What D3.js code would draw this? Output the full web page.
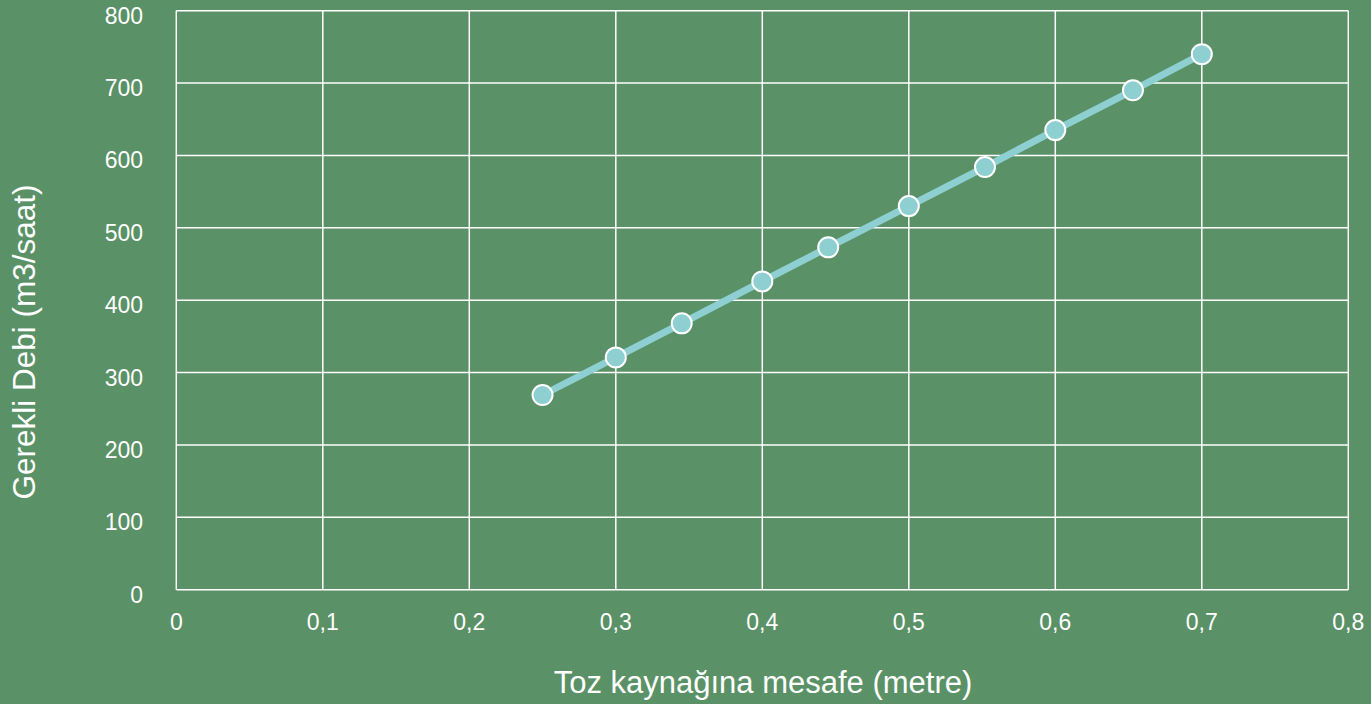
<!DOCTYPE html>
<html><head><meta charset="utf-8">
<script src="https://cdn.jsdelivr.net/npm/d3@7"></script>
<style>html,body{margin:0;padding:0;background:#5a9166;}svg{display:block;}</style>
</head><body>
<svg id="c" width="1371" height="704"></svg>
<script>
const xValues = [0.25, 0.3, 0.345, 0.4, 0.445, 0.5, 0.552, 0.6, 0.653, 0.7];
const yValues = [269, 321, 368, 426, 473, 530, 584, 635, 690, 740];
const xTicks = [0, 0.1, 0.2, 0.3, 0.4, 0.5, 0.6, 0.7, 0.8];
const yTicks = [0, 100, 200, 300, 400, 500, 600, 700, 800];
const xTitle = "Toz kaynağına mesafe (metre)";
const yTitle = "Gerekli Debi (m3/saat)";

const svg = d3.select("#c");
svg.append("rect").attr("width",1371).attr("height",704).attr("fill","#5a9166");
const L=176.3, R=1348.3, T=10.7, B=589.7;
const x = d3.scaleLinear().domain([0,0.8]).range([L,R]);
const y = d3.scaleLinear().domain([0,800]).range([B,T]);
const fmt = d => String(d).replace(".", ",");
const font = "Liberation Sans, Arial, sans-serif";

const g = svg.append("g");
g.selectAll(".vx").data(xTicks).join("line")
  .attr("x1",d=>x(d)).attr("x2",d=>x(d)).attr("y1",T).attr("y2",B)
  .attr("stroke","#fff").attr("stroke-width",1.5);
g.selectAll(".hy").data(yTicks).join("line")
  .attr("y1",d=>y(d)).attr("y2",d=>y(d)).attr("x1",L).attr("x2",R)
  .attr("stroke","#fff").attr("stroke-width",1.5);

svg.append("g").selectAll("text").data(xTicks).join("text")
  .attr("x",d=>x(d)).attr("y",630).attr("text-anchor","middle")
  .attr("fill","#fff").attr("font-family",font).attr("font-size",23).text(fmt);
svg.append("g").selectAll("text").data(yTicks).join("text")
  .attr("x",143).attr("y",d=>y(d)+13).attr("text-anchor","end")
  .attr("fill","#fff").attr("font-family",font).attr("font-size",23).text(d=>d);

svg.append("text").attr("x",763).attr("y",693).attr("text-anchor","middle")
  .attr("fill","#fff").attr("font-family",font).attr("font-size",31).text(xTitle);
svg.append("text").attr("transform",`translate(35,342) rotate(-90)`).attr("text-anchor","middle")
  .attr("fill","#fff").attr("font-family",font).attr("font-size",31.5).text(yTitle);

const data = xValues.map((v,i)=>({x:v,y:yValues[i]}));
svg.append("path").datum(data)
  .attr("d", d3.line().x(d=>x(d.x)).y(d=>y(d.y)))
  .attr("fill","none").attr("stroke","#8ecfd1").attr("stroke-width",7).attr("stroke-linecap","round");
svg.append("g").selectAll("circle").data(data).join("circle")
  .attr("cx",d=>x(d.x)).attr("cy",d=>y(d.y)).attr("r",10)
  .attr("fill","#8ecfd1").attr("stroke","#fff").attr("stroke-width",2);
</script>
</body></html>
